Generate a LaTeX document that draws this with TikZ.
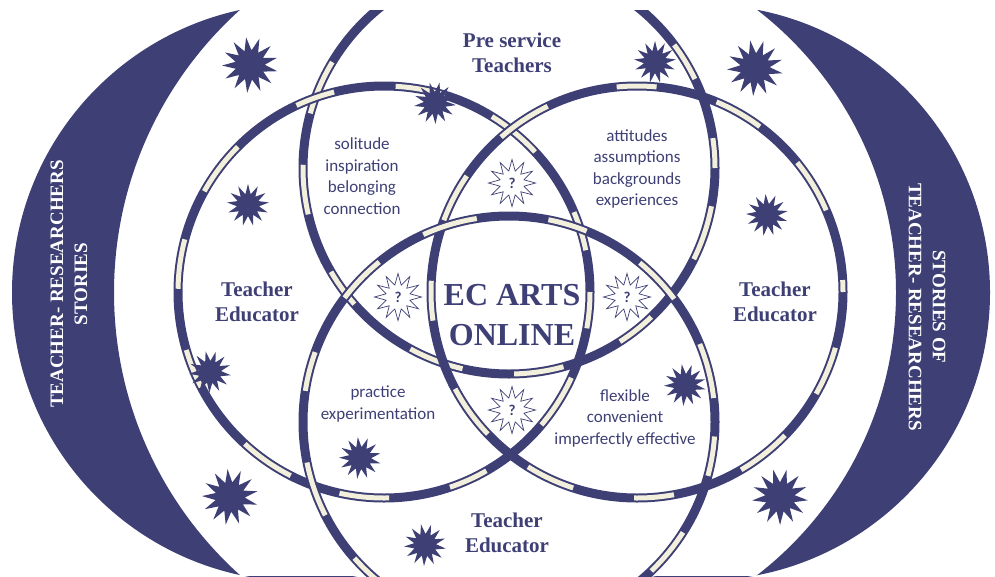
\documentclass[tikz,border=0pt]{standalone}
\usepackage{fontspec}
\setmainfont{Liberation Serif}
\newfontfamily\bodysans{Carlito}
\usetikzlibrary{shapes.geometric}

\definecolor{navy}{RGB}{62,64,117}
\definecolor{cream}{RGB}{242,239,220}

\begin{document}
\begin{tikzpicture}[x=1pt, y=-1pt]

\tikzstyle{ring}=[draw=navy, line width=9pt]
\tikzstyle{ringfill}=[draw=cream, line width=5pt, dash pattern=on 50pt off 62pt on 40pt off 72pt on 56pt off 52pt]
\tikzstyle{spark}=[star, star points=13, star point ratio=1.9, fill=navy, inner sep=0pt]
\tikzstyle{query}=[star, star points=12, star point ratio=1.9, draw=navy, fill=white, line width=0.7pt, minimum size=47pt, inner sep=0pt, text=navy, font=\bodysans\bfseries\fontsize{15}{15}\selectfont]
\tikzstyle{who}=[text=navy, align=center, font=\bfseries\fontsize{21}{25}\selectfont]
\tikzstyle{words}=[text=navy, align=center, font=\bodysans\fontsize{17}{21.5}\selectfont]
\tikzstyle{tale}=[text=white, align=center, font=\bfseries\fontsize{19}{24}\selectfont]

\useasboundingbox (0,0) rectangle (995,576);
\clip (0,10) rectangle (995,576);

% crescents
\begin{scope}
\clip (301,292.5) circle[radius=289pt];
\fill[navy, even odd rule] (0,0) rectangle (995,576) (494,292.5) circle[radius=380pt];
\end{scope}
\begin{scope}
\clip (702,292.5) circle[radius=288pt];
\fill[navy, even odd rule] (0,0) rectangle (995,576) (539,292.5) circle[radius=357pt];
\end{scope}

\node[tale, rotate=90] (lefttale) at (69,284) {TEACHER- RESEARCHERS\\STORIES};
\node[tale, rotate=-90] (righttale) at (927,307) {STORIES OF\\TEACHER- RESEARCHERS};

% the four rings
\coordinate (ctop) at (509,168);
\coordinate (cleft) at (384,292);
\coordinate (cright) at (637,292);
\coordinate (cbottom) at (509,422);

\draw[ring] (ctop) circle[radius=206pt];
\draw[ringfill, dash phase=20pt] (ctop) circle[radius=206pt];
\draw[ring] (cleft) circle[radius=206pt];
\draw[ringfill, dash phase=70pt] (cleft) circle[radius=206pt];
\draw[ring] (cright) circle[radius=206pt];
\draw[ringfill, dash phase=140pt] (cright) circle[radius=206pt];
\draw[ring] (cbottom) circle[radius=206pt];
\draw[ringfill, dash phase=200pt] (cbottom) circle[radius=206pt];

% stars
\node[spark, minimum size=56pt, rotate=8] (s1) at (250,65) {};
\node[spark, minimum size=42pt] (s2) at (248,205) {};
\node[spark, minimum size=42pt, rotate=12] (s3) at (210,372) {};
\node[spark, minimum size=56pt, rotate=5] (s4) at (230,497) {};
\node[spark, minimum size=42pt, rotate=15] (s5) at (435,103) {};
\node[spark, minimum size=42pt] (s6) at (655,62) {};
\node[spark, minimum size=56pt, rotate=10] (s7) at (755,68) {};
\node[spark, minimum size=42pt, rotate=4] (s8) at (767,215) {};
\node[spark, minimum size=42pt, rotate=9] (s9) at (685,385) {};
\node[spark, minimum size=56pt, rotate=14] (s10) at (780,497) {};
\node[spark, minimum size=42pt, rotate=6] (s11) at (360,458) {};
\node[spark, minimum size=42pt, rotate=11] (s12) at (425,545) {};

\node[query] (qtop) at (512,183) {?};
\node[query] (qleft) at (398,297) {?};
\node[query] (qright) at (627,297) {?};
\node[query] (qbottom) at (512,410) {?};

% labels
\node[who] (pre) at (512,53) {Pre service\\Teachers};
\node[who] (edleft) at (257,302) {Teacher\\Educator};
\node[who] (edright) at (775,302) {Teacher\\Educator};
\node[who] (edbottom) at (507,533) {Teacher\\Educator};

\node[text=navy, align=center, font=\bfseries\fontsize{32}{40}\selectfont] (core) at (512,315) {EC ARTS\\ONLINE};

\node[words] (lonely) at (362,176) {solitude\\inspiration\\belonging\\connection};
\node[words] (views) at (637,169) {attitudes\\assumptions\\backgrounds\\experiences};
\node[words] (doing) at (378,404) {practice\\experimentation};
\node[words] (handy) at (625,418) {flexible\\convenient\\imperfectly effective};

\end{tikzpicture}
\end{document}
